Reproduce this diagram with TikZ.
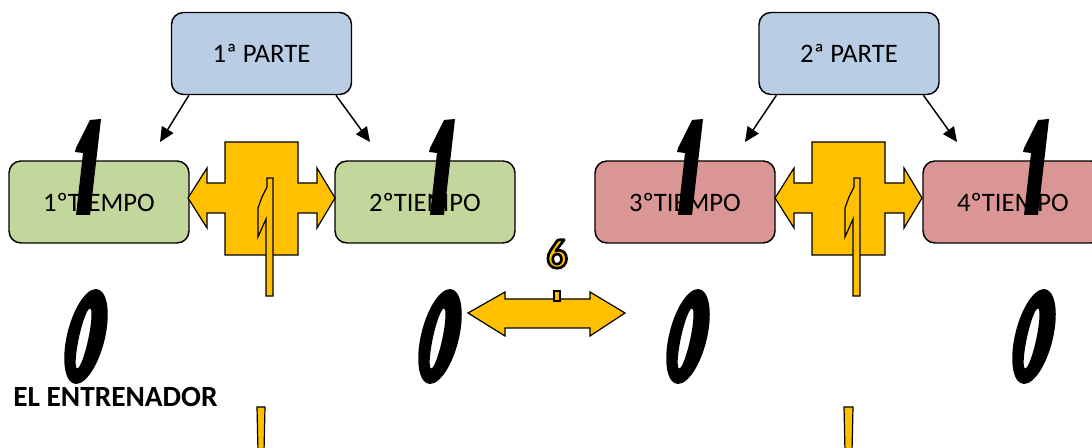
\documentclass[tikz,border=0pt]{standalone}
\usepackage{fontspec}
\setmainfont{Carlito}
\usetikzlibrary{arrows.meta,calc}
\definecolor{partefill}{HTML}{B9CDE5}
\definecolor{greenfill}{HTML}{C3D69B}
\definecolor{redfill}{HTML}{D99694}
\definecolor{gold}{HTML}{FFC000}

% gold glyphs with a black outline (fill, then stroke)
\newcommand{\outlinedtext}[1]{{\color{gold}\special{pdf:code 2 Tr 2 w 1 j 0 G}#1\special{pdf:code 0 Tr}}}

\tikzset{
  box/.style={draw=black, line width=1.1pt, rounded corners=9pt,
    minimum width=135pt, minimum height=61.5pt, inner sep=0pt,
    font=\fontsize{20}{24}\selectfont},
  parte/.style={box, fill=partefill},
  firsthalf/.style={box, fill=greenfill},
  secondhalf/.style={box, fill=redfill},
  conn/.style={line width=1.1pt, -{Triangle[length=11pt,width=10pt]}},
  goldshape/.style={fill=gold, draw=black, line width=0.9pt, line join=miter},
  sixfont/.style={font=\bfseries\fontsize{31}{36}\selectfont, inner sep=0pt},
  % slanted heavy digit one
  bigone/.pic={\fill (26,0) -- (15,96) -- (1,96) -- (8,34) -- (0,33)
      -- (1,29) -- (15,1) -- cycle;},
  % slanted heavy digit zero
  bigzero/.pic={\fill[even odd rule, xslant=0.21]
      (0,0) ellipse [x radius=14.5pt, y radius=35.6pt]
      (-2,2) ellipse [x radius=3.6pt, y radius=22.5pt];},
  % left-right arrow callout with a tall narrow one inside
  swapcross/.pic={
    \path[goldshape] (0,0) -- (73,0) -- (73,41) -- (92,41) -- (92,26)
      -- (110,56) -- (92,86) -- (92,71) -- (73,71) -- (73,113) -- (0,113)
      -- (0,71) -- (-18,71) -- (-18,86) -- (-37,56) -- (-18,26) -- (-18,41)
      -- (0,41) -- cycle;
    \path[goldshape] (42,36) -- (48,36) -- (48,154) -- (41,154) -- (41,77)
      -- (33,95) -- (33,66) -- (37,55) -- (42,45) -- cycle;}
}

\begin{document}
\begin{tikzpicture}[x=0.75pt,y=-0.75pt]
\useasboundingbox (0,0) rectangle (1092,448);
\clip (0,0) rectangle (1092,448);

% parts
\node[parte] (p1) at (261.5,53.5) {1ª PARTE};
\node[parte] (p2) at (849,53.5) {2ª PARTE};

% halves
\node[firsthalf] (t1) at (99,202) {1ºTIEMPO};
\node[firsthalf] (t2) at (425,202) {2ºTIEMPO};
\node[secondhalf] (t3) at (685,202) {3ºTIEMPO};
\node[secondhalf] (t4) at (1013,202) {4ºTIEMPO};

% arrow ends
\coordinate (a1) at (160,142);
\coordinate (a2) at (370,142);
\coordinate (a3) at (745,142);
\coordinate (a4) at (957,142);

\draw[conn] ($(p1.south west)!0.1!(p1.south east)$) -- (a1);
\draw[conn] ($(p1.south west)!0.91!(p1.south east)$) -- (a2);
\draw[conn] ($(p2.south west)!0.1!(p2.south east)$) -- (a3);
\draw[conn] ($(p2.south west)!0.91!(p2.south east)$) -- (a4);

% exchange callouts between halves
\pic at (225,142) {swapcross};
\pic at (812,142) {swapcross};

% break arrow
\path[goldshape] (468,313) -- (505,292) -- (505,299) -- (590,299) -- (590,292)
  -- (625,313) -- (590,336) -- (590,328) -- (505,328) -- (505,336) -- cycle;
\path[goldshape] (554,291) rectangle (560,301);

% lower stubs
\path[goldshape] (257,407) -- (265,407) -- (264,452) -- (258,452) -- cycle;
\path[goldshape] (844,407) -- (853,407) -- (852,452) -- (845,452) -- cycle;

% scores
\foreach \dx in {0,354,602,948} {
  \pic at (75+\dx,119) {bigone};
  \pic at (86+\dx,336.5) {bigzero};
}

% outlined six
\node[sixfont] (six) at (557,254) {\outlinedtext{6}};

\node[anchor=base west, inner sep=0pt, font=\bfseries\fontsize{22}{26}\selectfont]
  (coach) at (13,407) {EL ENTRENADOR};
\end{tikzpicture}
\end{document}
